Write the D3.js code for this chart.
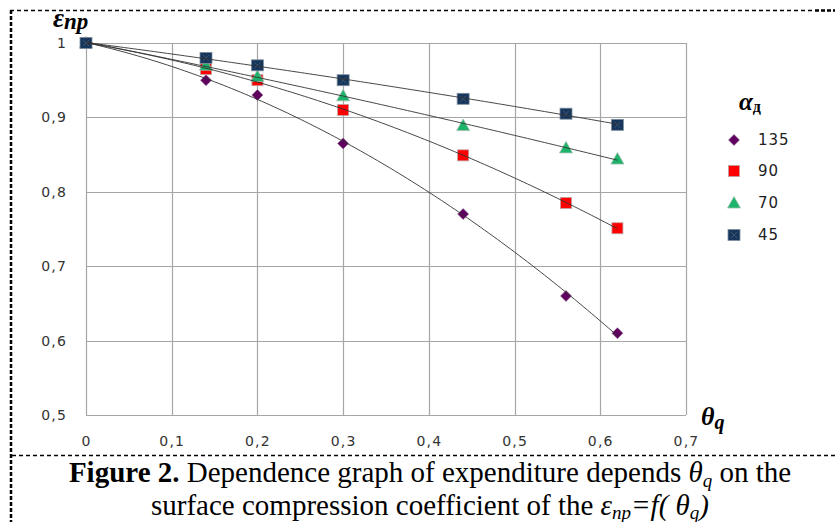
<!DOCTYPE html>
<html><head><meta charset="utf-8">
<script src="https://cdn.jsdelivr.net/npm/d3@7"></script>
<style>body{margin:0;background:#fff}svg{display:block}</style>
</head><body>
<script>
const xValues = [0, 0.14, 0.2, 0.3, 0.44, 0.56, 0.62];
const s135 = [1, 0.95, 0.93, 0.865, 0.77, 0.66, 0.61];
const s90  = [1, 0.965, 0.95, 0.91, 0.849, 0.785, 0.751];
const s70  = [1, 0.97, 0.955, 0.929, 0.889, 0.859, 0.844];
const s45  = [1, 0.98, 0.97, 0.95, 0.925, 0.905, 0.89];
const seriesNames = ["135", "90", "70", "45"];
const xTicks = [0, 0.1, 0.2, 0.3, 0.4, 0.5, 0.6, 0.7];
const yTicks = [0.5, 0.6, 0.7, 0.8, 0.9, 1];

const series = [
  {name: seriesNames[0], vals: s135, color: "#600060", shape: "diamond"},
  {name: seriesNames[1], vals: s90, color: "#ff0000", shape: "square"},
  {name: seriesNames[2], vals: s70, color: "#1db36a", shape: "triangle"},
  {name: seriesNames[3], vals: s45, color: "#16365c", shape: "squarex"}
];

const W = 835, H = 522;
const svg = d3.select("body").append("svg").attr("width", W).attr("height", H);

const x = d3.scaleLinear().domain([0, 0.7]).range([86, 686]);
const y = d3.scaleLinear().domain([0.5, 1]).range([415, 43]);
const fmt = v => (v === 0 || v === 1) ? String(v) : d3.format(".1f")(v).replace(".", ",");

// borders
svg.append("line").attr("x1", 10).attr("x2", 815).attr("y1", 10.5).attr("y2", 10.5)
  .attr("stroke", "#000").attr("stroke-width", 1.5).attr("stroke-dasharray", "4,3");
svg.append("line").attr("x1", 815).attr("x2", W).attr("y1", 10.5).attr("y2", 10.5)
  .attr("stroke", "#000").attr("stroke-width", 2.5).attr("stroke-dasharray", "4,2");
svg.append("line").attr("x1", 11).attr("x2", 11).attr("y1", 10).attr("y2", H)
  .attr("stroke", "#000").attr("stroke-width", 2.5).attr("stroke-dasharray", "4,2");
svg.append("line").attr("x1", 12).attr("x2", W).attr("y1", 455.5).attr("y2", 455.5)
  .attr("stroke", "#000").attr("stroke-width", 1.5).attr("stroke-dasharray", "4,3");

// grid
const g = svg.append("g");
g.selectAll(".vx").data(xTicks).join("line")
  .attr("x1", d => Math.round(x(d)) + 0.5).attr("x2", d => Math.round(x(d)) + 0.5)
  .attr("y1", y(1)).attr("y2", y(0.5)).attr("stroke", "#a6a6a6").attr("stroke-width", 1.2);
g.selectAll(".hy").data(yTicks).join("line")
  .attr("y1", d => Math.round(y(d)) + 0.5).attr("y2", d => Math.round(y(d)) + 0.5)
  .attr("x1", x(0)).attr("x2", x(0.7)).attr("stroke", "#a6a6a6").attr("stroke-width", 1.2);

// tick labels via axes
const xAxis = d3.axisBottom(x).tickValues(xTicks).tickFormat(fmt).tickSize(0).tickPadding(0);
const xa = svg.append("g").attr("transform", "translate(0,436)").call(xAxis);
xa.select(".domain").remove();
xa.selectAll("text").attr("font-family", "DejaVu Sans, Verdana").attr("font-size", 14)
  .attr("letter-spacing", 1.2).attr("fill", "#333").attr("dy", "0.71em");

const yAxis = d3.axisLeft(y).tickValues(yTicks).tickFormat(fmt).tickSize(0).tickPadding(0);
const ya = svg.append("g").attr("transform", "translate(67,0)").call(yAxis);
ya.select(".domain").remove();
ya.selectAll("text").attr("font-family", "DejaVu Sans, Verdana").attr("font-size", 14)
  .attr("letter-spacing", 1.2).attr("fill", "#333");

// markers
function drawMarker(sel, shape, color, cx, cy) {
  if (shape === "diamond") {
    sel.append("path").attr("d", `M${cx},${cy-5.5}L${cx+5.5},${cy}L${cx},${cy+5.5}L${cx-5.5},${cy}Z`)
      .attr("fill", color).attr("stroke", "#8a6a8a").attr("stroke-width", 0.6);
  } else if (shape === "square") {
    sel.append("rect").attr("x", cx-5.5).attr("y", cy-5.5).attr("width", 11).attr("height", 11)
      .attr("fill", color).attr("stroke", "#c0a0a0").attr("stroke-width", 0.8);
  } else if (shape === "triangle") {
    sel.append("path").attr("d", `M${cx},${cy-6.5}L${cx+6.5},${cy+5}L${cx-6.5},${cy+5}Z`)
      .attr("fill", color).attr("stroke", "#a0c0b0").attr("stroke-width", 0.8);
  } else {
    sel.append("rect").attr("x", cx-6).attr("y", cy-5.5).attr("width", 12).attr("height", 11)
      .attr("fill", color).attr("stroke", "#8090a0").attr("stroke-width", 0.8);
    sel.append("path").attr("d", `M${cx-3},${cy-3}L${cx+3},${cy+3}M${cx+3},${cy-3}L${cx-3},${cy+3}`)
      .attr("stroke", "#4a5a70").attr("stroke-width", 0.8);
  }
}
const mg = svg.append("g");
series.forEach(s => {
  s.vals.forEach((v, i) => drawMarker(mg, s.shape, s.color, x(xValues[i]), y(v)));
});

// quadratic least-squares trend lines computed from data
function quadFit(xs, ys) {
  let n = xs.length, S = [0,0,0,0,0], T = [0,0,0];
  for (let i = 0; i < n; i++) {
    const a = xs[i], b = ys[i];
    for (let k = 0; k < 5; k++) S[k] += Math.pow(a, k);
    for (let k = 0; k < 3; k++) T[k] += b * Math.pow(a, k);
  }
  const M = [[S[0],S[1],S[2],T[0]],[S[1],S[2],S[3],T[1]],[S[2],S[3],S[4],T[2]]];
  for (let i = 0; i < 3; i++) {
    let p = i; for (let r = i+1; r < 3; r++) if (Math.abs(M[r][i]) > Math.abs(M[p][i])) p = r;
    [M[i], M[p]] = [M[p], M[i]];
    for (let r = 0; r < 3; r++) if (r !== i) {
      const f = M[r][i] / M[i][i];
      for (let c = i; c < 4; c++) M[r][c] -= f * M[i][c];
    }
  }
  return [M[0][3]/M[0][0], M[1][3]/M[1][1], M[2][3]/M[2][2]];
}
const line = d3.line().x(d => x(d[0])).y(d => y(d[1]));
series.forEach(s => {
  const c = quadFit(xValues, s.vals);
  const xs = d3.range(0, 0.6201, 0.005);
  const pts = xs.map(t => [t, c[0] + c[1]*t + c[2]*t*t]);
  svg.append("path").datum(pts).attr("d", line).attr("fill", "none")
    .attr("stroke", "#333").attr("stroke-width", 1).attr("opacity", 0.9);
});

// axis titles
const yt = svg.append("text").attr("x", 53).attr("y", 27).attr("font-family", "Liberation Serif, Times New Roman, serif")
  .attr("font-weight", "bold").attr("font-style", "italic");
yt.append("tspan").attr("font-size", 27).text("ε");
yt.append("tspan").attr("font-size", 23).attr("dy", 2).text("np");

const xt = svg.append("text").attr("x", 701).attr("y", 425).attr("font-family", "Liberation Serif, Times New Roman, serif")
  .attr("font-weight", "bold").attr("font-style", "italic");
xt.append("tspan").attr("font-size", 26).text("θ");
xt.append("tspan").attr("font-size", 20).attr("dy", 4).text("q");

// legend
const lt = svg.append("text").attr("x", 739).attr("y", 110).attr("font-family", "Liberation Serif, Times New Roman, serif")
  .attr("font-weight", "bold").attr("font-style", "italic");
lt.append("tspan").attr("font-size", 25).text("α");
lt.append("tspan").attr("font-size", 16).attr("dy", 2).attr("font-style", "normal").text("д");

const legY = [140, 171, 203, 235];
series.forEach((s, i) => {
  drawMarker(svg, s.shape, s.color, 734, legY[i]);
  svg.append("text").attr("x", 758).attr("y", legY[i] + 5).attr("font-family", "DejaVu Sans, Verdana")
    .attr("font-size", 15).attr("letter-spacing", 1).attr("fill", "#222").text(s.name);
});

// caption
const cap1 = svg.append("text").attr("x", 430).attr("y", 482).attr("text-anchor", "middle")
  .attr("font-family", "Liberation Serif, Times New Roman, serif").attr("font-size", 29).attr("fill", "#000");
cap1.append("tspan").attr("font-weight", "bold").text("Figure 2.");
cap1.append("tspan").text(" Dependence graph of expenditure depends ");
cap1.append("tspan").attr("font-style", "italic").text("θ");
cap1.append("tspan").attr("font-style", "italic").attr("font-size", 19).attr("dy", 5).text("q");
cap1.append("tspan").attr("dy", -5).text(" on the");

const cap2 = svg.append("text").attr("x", 430).attr("y", 515).attr("text-anchor", "middle")
  .attr("font-family", "Liberation Serif, Times New Roman, serif").attr("font-size", 29).attr("fill", "#000");
cap2.append("tspan").text("surface compression coefficient of the ");
cap2.append("tspan").attr("font-style", "italic").text("ε");
cap2.append("tspan").attr("font-style", "italic").attr("font-size", 19).attr("dy", 4).text("np");
cap2.append("tspan").attr("dy", -4).attr("font-style", "italic").text("=f( θ");
cap2.append("tspan").attr("font-style", "italic").attr("font-size", 19).attr("dy", 4).text("q");
cap2.append("tspan").attr("dy", -4).attr("font-style", "italic").text(")");
</script>
</body></html>
